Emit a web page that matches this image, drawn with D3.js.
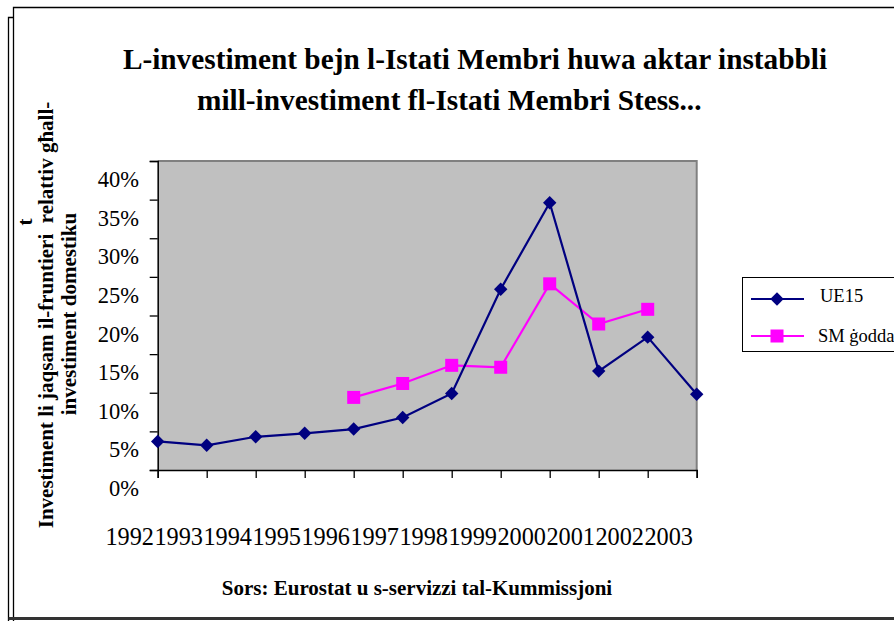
<!DOCTYPE html>
<html><head><meta charset="utf-8">
<script src="https://cdn.jsdelivr.net/npm/d3@7"></script>
<style>
html,body{margin:0;padding:0;background:#fff;}
svg{display:block;}
text{font-family:"Liberation Serif","Times New Roman",serif;fill:#000;white-space:pre;}
</style></head>
<body>
<svg id="chart" width="894" height="621"></svg>
<script>
const years = ["1992","1993","1994","1995","1996","1997","1998","1999","2000","2001","2002","2003"];
const ue15 = [3.7, 3.2, 4.3, 4.75, 5.3, 6.8, 9.9, 23.4, 34.6, 12.8, 17.2, 9.8];
const smGodda = [null, null, null, null, 9.4, 11.2, 13.55, 13.3, 24.1, 18.9, 20.8, null];
const yTicks = [0, 5, 10, 15, 20, 25, 30, 35, 40];
const titleLines = ["L-investiment bejn l-Istati Membri huwa aktar instabbli", "mill-investiment fl-Istati Membri Stess..."];
const yTitleLines = ["t", "Investiment li jaqsam il-fruntieri  relattiv għall-", "investiment domestiku"];
const seriesNames = ["UE15", "SM ġodda"];
const sourceText = "Sors: Eurostat u s-servizzi tal-Kummissjoni";

const svg = d3.select("#chart");
const L = 157.7, T = 161, R = 696.7, B = 470;

// outer frame
const frame = svg.append("g").attr("fill","none").attr("stroke","#000").attr("stroke-width",1.3);
frame.append("path").attr("d","M13.5,640 V7.5 H900");
frame.append("path").attr("d","M8.5,640 V17.5 H13.5");
frame.append("path").attr("d","M8.5,618.5 H900").attr("stroke","#333").attr("stroke-width",3);

const x = d3.scalePoint().domain(years).range([L, R]);
const y = d3.scaleLinear().domain([0, 40]).range([B, T]);

// plot area
svg.append("rect").attr("x",L).attr("y",T).attr("width",R-L).attr("height",B-T)
  .attr("fill","#C0C0C0");
svg.append("path").attr("d",`M${L},${T} H${R} V${B}`).attr("fill","none")
  .attr("stroke","#808080").attr("stroke-width",2);

// y axis
const yAxis = d3.axisLeft(y).tickValues(yTicks).tickSize(8).tickFormat("");
const gy = svg.append("g").attr("transform",`translate(${L},0)`).call(yAxis);
gy.select(".domain").attr("stroke","#000").attr("stroke-width",1.5);
gy.selectAll(".tick line").attr("stroke","#000").attr("stroke-width",1.3);
svg.append("g").selectAll("text").data(yTicks).join("text")
  .attr("x",139).attr("y",d=>y(d)+26).attr("text-anchor","end")
  .style("font-size","22.5px").text(d=>d+"%");

// x axis
const xAxis = d3.axisBottom(x).tickSize(8).tickFormat("");
const gx = svg.append("g").attr("transform",`translate(0,${B})`).call(xAxis);
gx.select(".domain").attr("stroke","#000").attr("stroke-width",1.5);
gx.selectAll(".tick line").attr("stroke","#000").attr("stroke-width",1.3);
svg.append("g").selectAll("text").data(years).join("text")
  .attr("x",d=>x(d)-28).attr("y",545).attr("text-anchor","middle")
  .style("font-size","24.3px").text(d=>d);

// lines
const line = d3.line().defined(d=>d.v!=null).x(d=>x(d.k)).y(d=>y(d.v));
const ueData = years.map((k,i)=>({k, v:ue15[i]}));
const smData = years.map((k,i)=>({k, v:smGodda[i]}));

svg.append("path").datum(smData).attr("d",line).attr("fill","none")
  .attr("stroke","#FF00FF").attr("stroke-width",2.2);
svg.append("path").datum(ueData).attr("d",line).attr("fill","none")
  .attr("stroke","#000080").attr("stroke-width",2.2);

svg.append("g").selectAll("path").data(ueData.filter(d=>d.v!=null)).join("path")
  .attr("d", d3.symbol().type(d3.symbolSquare).size(90))
  .attr("transform",d=>`translate(${x(d.k)},${y(d.v)}) rotate(45)`)
  .attr("fill","#000080");
svg.append("g").selectAll("rect").data(smData.filter(d=>d.v!=null)).join("rect")
  .attr("x",d=>x(d.k)-6.5).attr("y",d=>y(d.v)-6.5).attr("width",13).attr("height",13)
  .attr("fill","#FF00FF");

// title
svg.append("text").attr("x",475).attr("y",69).attr("text-anchor","middle")
  .style("font-size","29.3px").style("font-weight","bold").text(titleLines[0]);
svg.append("text").attr("x",197).attr("y",110).attr("text-anchor","start")
  .style("font-size","29.3px").style("font-weight","bold").text(titleLines[1]);

// y title
const yt = [{t:yTitleLines[0], x:32, y:222},
            {t:yTitleLines[1], x:53, y:315},
            {t:yTitleLines[2], x:76, y:314}];
yt.forEach(o=>{
  svg.append("text").attr("transform",`translate(${o.x},${o.y}) rotate(-90)`)
    .attr("text-anchor","middle").style("font-size","21px").style("font-weight","bold").text(o.t);
});

// legend
const lg = svg.append("g");
lg.append("rect").attr("x",742.5).attr("y",277.5).attr("width",200).attr("height",74)
  .attr("fill","#fff").attr("stroke","#000").attr("stroke-width",1);
lg.append("line").attr("x1",751).attr("x2",804).attr("y1",299).attr("y2",299).attr("stroke","#000080").attr("stroke-width",2.2);
lg.append("path").attr("d", d3.symbol().type(d3.symbolSquare).size(90)).attr("transform","translate(777,299) rotate(45)").attr("fill","#000080");
lg.append("line").attr("x1",751).attr("x2",804).attr("y1",336).attr("y2",336).attr("stroke","#FF00FF").attr("stroke-width",2.2);
lg.append("rect").attr("x",770.5).attr("y",329.5).attr("width",13).attr("height",13).attr("fill","#FF00FF");
lg.append("text").attr("x",820).attr("y",302).style("font-size","18.5px").text(seriesNames[0]);
lg.append("text").attr("x",818).attr("y",342).style("font-size","18.5px").text(seriesNames[1]);

// source
svg.append("text").attr("x",417).attr("y",595).attr("text-anchor","middle")
  .style("font-size","21px").style("font-weight","bold").text(sourceText);
</script>
</body></html>
